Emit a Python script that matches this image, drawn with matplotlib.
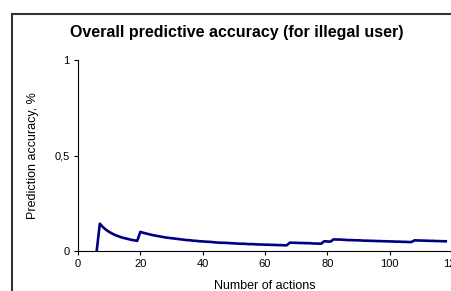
import matplotlib
matplotlib.use("Agg")
import matplotlib.pyplot as plt
from matplotlib.patches import Rectangle

plt.rcParams['font.family'] = ['Liberation Sans', 'DejaVu Sans']

# number of actions and prediction accuracy
actions = list(range(6, 119))
accuracy = [
    0.000,
    0.143, 0.125, 0.111, 0.100, 0.091, 0.083, 0.077, 0.071, 0.067, 0.063, 0.059, 0.056, 0.053,
    0.100, 0.095, 0.091, 0.087, 0.083, 0.080, 0.077, 0.074, 0.071, 0.069, 0.067, 0.065, 0.063,
    0.061, 0.059, 0.057, 0.056, 0.054, 0.053, 0.051, 0.050, 0.049, 0.048, 0.047, 0.045, 0.044,
    0.043, 0.043, 0.042, 0.041, 0.040, 0.039, 0.038, 0.038, 0.037, 0.036, 0.036, 0.035, 0.034,
    0.034, 0.033, 0.033, 0.032, 0.032, 0.031, 0.031, 0.030, 0.030,
    0.044, 0.043, 0.043, 0.042, 0.042, 0.041, 0.041, 0.040, 0.039, 0.039, 0.038,
    0.051, 0.050, 0.049,
    0.061, 0.060, 0.060, 0.059, 0.058, 0.057, 0.057, 0.056, 0.056, 0.055, 0.054, 0.054, 0.053,
    0.053, 0.052, 0.052, 0.051, 0.051, 0.050, 0.050, 0.049, 0.049, 0.048, 0.048, 0.047, 0.047,
    0.056, 0.055, 0.055, 0.054, 0.054, 0.053, 0.053, 0.052, 0.052, 0.051, 0.051,
]
x_ticks = [0, 20, 40, 60, 80, 100, 120]
y_ticks = [0, 0.5, 1]
y_tick_labels = ['0', '0,5', '1']

fig = plt.figure(figsize=(4.51, 2.91), dpi=100)
ax = fig.add_axes([78 / 451, 1 - 251 / 291, 374 / 451, 191 / 291])

# outer chart-area border (cropped on the right and bottom)
fig.patches.append(Rectangle((12 / 451, -0.2), 1.2, 1.2 - 14 / 291,
                             transform=fig.transFigure, fill=False,
                             edgecolor='#333333', linewidth=1.5))

ax.plot(actions, accuracy, color='#000080', linewidth=1.9)

ax.set_xlim(0, 120)
ax.set_ylim(0, 1)
ax.set_xticks(x_ticks)
ax.set_yticks(y_ticks)
ax.set_yticklabels(y_tick_labels)
ax.tick_params(labelsize=8, length=3, width=0.8, pad=3)
ax.spines['top'].set_visible(False)
ax.spines['right'].set_visible(False)
ax.spines['left'].set_linewidth(0.8)
ax.spines['bottom'].set_linewidth(0.8)

ax.set_xlabel('Number of actions', fontsize=9, labelpad=8)
ax.set_ylabel('Prediction accuracy, %', fontsize=9, labelpad=11)
fig.text(237 / 451, 1 - 33 / 291, 'Overall predictive accuracy (for illegal user)',
         ha='center', va='center', fontsize=11.5, fontweight='bold')

fig.savefig('out.png', dpi=100)
